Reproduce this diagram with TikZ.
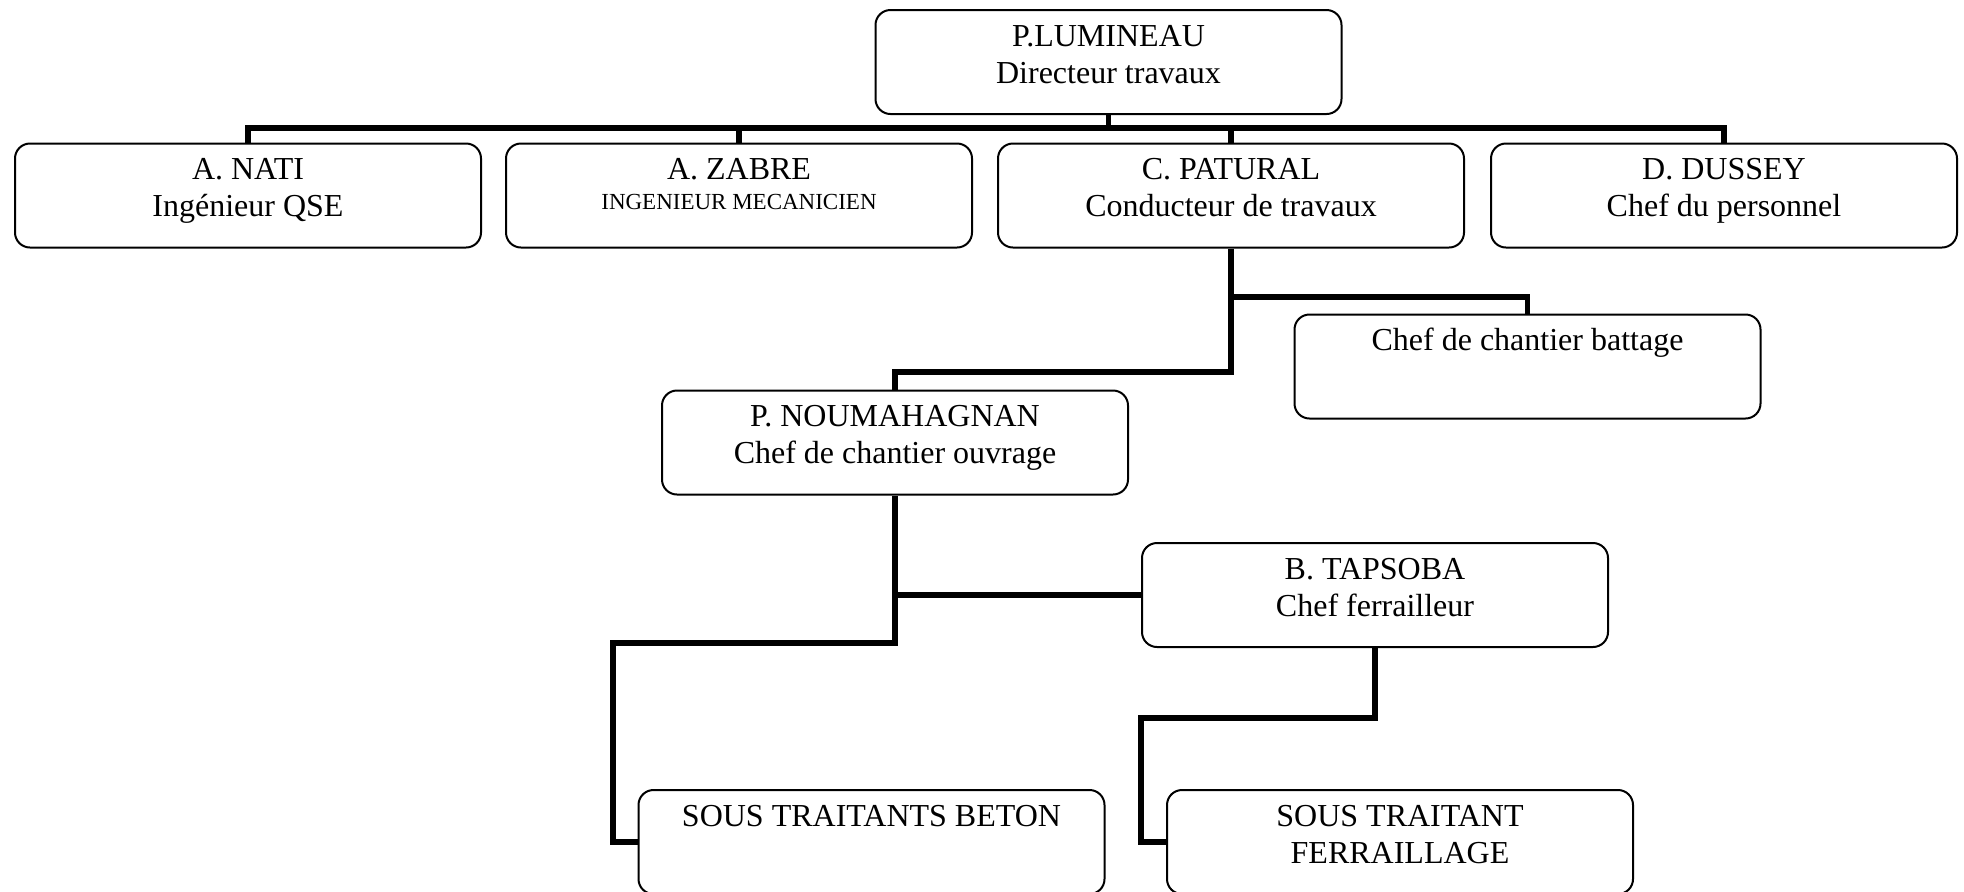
\documentclass[tikz,border=0pt]{standalone}
\usepackage{fontspec}
\setmainfont{Liberation Serif}
\begin{document}
\begin{tikzpicture}[x=0.5pt,y=-0.5pt,
  orgbox/.style={draw, line width=1pt, rounded corners=7.5pt, fill=white,
    minimum width=233pt, minimum height=52pt, inner sep=0pt},
  txt/.style={anchor=base, inner sep=0pt, font=\fontsize{16}{18}\selectfont},
  smalltxt/.style={anchor=base, inner sep=0pt, font=\fontsize{11.5}{13}\selectfont},
  link/.style={line width=2.75pt}]
\useasboundingbox (0,0) rectangle (1964,891);

% boxes
\node[orgbox] (top)     at (1108.5,62)  {};
\node[orgbox] (nati)    at (248,195.5)  {};
\node[orgbox] (zabre)   at (739,195.5)  {};
\node[orgbox] (patural) at (1231,195.5) {};
\node[orgbox] (dussey)  at (1724,195.5) {};
\node[orgbox] (battage) at (1527.5,366.5) {};
\node[orgbox] (noum)    at (895,442.5)  {};
\node[orgbox] (tapsoba) at (1375,595)   {};
\node[orgbox] (beton)   at (871.5,842)  {};
\node[orgbox] (ferr)    at (1400,842)   {};

% texts
\tikzset{l1/.style={yshift=-18.5pt}, l2/.style={yshift=-37pt}}
\node[txt] (top-a) at ([l1]top.north) {P.LUMINEAU};
\node[txt] (top-b) at ([l2]top.north) {Directeur travaux};
\node[txt] (nati-a) at ([l1]nati.north) {A. NATI};
\node[txt] (nati-b) at ([l2]nati.north) {Ingénieur QSE};
\node[txt] (zabre-a) at ([l1]zabre.north) {A. ZABRE};
\node[smalltxt] (zabre-b) at ([yshift=-33.5pt]zabre.north) {INGENIEUR MECANICIEN};
\node[txt] (patural-a) at ([l1]patural.north) {C. PATURAL};
\node[txt] (patural-b) at ([l2]patural.north) {Conducteur de travaux};
\node[txt] (dussey-a) at ([l1]dussey.north) {D. DUSSEY};
\node[txt] (dussey-b) at ([l2]dussey.north) {Chef du personnel};
\node[txt] (battage-a) at ([l1]battage.north) {Chef de chantier battage};
\node[txt] (noum-a) at ([l1]noum.north) {P. NOUMAHAGNAN};
\node[txt] (noum-b) at ([l2]noum.north) {Chef de chantier ouvrage};
\node[txt] (tapsoba-a) at ([l1]tapsoba.north) {B. TAPSOBA};
\node[txt] (tapsoba-b) at ([l2]tapsoba.north) {Chef ferrailleur};
\node[txt] (beton-a) at ([l1]beton.north) {SOUS TRAITANTS BETON};
\node[txt] (ferr-a) at ([l1]ferr.north) {SOUS TRAITANT};
\node[txt] (ferr-b) at ([l2]ferr.north) {FERRAILLAGE};

% junction points
\coordinate (bus) at (1108.5,128);
\coordinate (bk)  at (1527.5,297);
\coordinate (pk)  at (895,372);
\coordinate (bL)  at (613,643);
\coordinate (fL)  at (1141,718);

% connectors
\draw[link] (top.south) -- (bus);
\draw[link] (nati.north) -- (nati.north |- bus) -- (dussey.north |- bus) -- (dussey.north);
\draw[link] (zabre.north) -- (zabre.north |- bus);
\draw[link] (patural.north) -- (patural.north |- bus);
\draw[link] (patural.south) |- (pk) -- (noum.north);
\draw[link] (patural.south |- bk) -- (bk) -- (battage.north);
\draw[link] (noum.south) |- (bL) |- (beton.west);
\draw[link] (noum.south |- tapsoba.west) -- (tapsoba.west);
\draw[link] (tapsoba.south) |- (fL) |- (ferr.west);
\end{tikzpicture}
\end{document}
